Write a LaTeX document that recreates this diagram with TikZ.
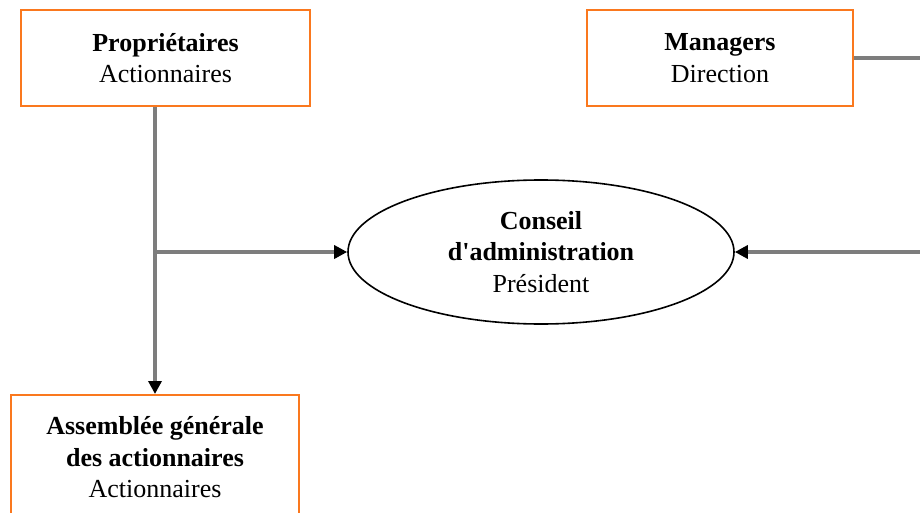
\documentclass[tikz,border=0pt]{standalone}
\usepackage{fontspec}
\setmainfont{Liberation Serif}[Ligatures=TeXOff]
\usetikzlibrary{arrows.meta,shapes.geometric}
\definecolor{boxorange}{RGB}{250,120,30}
\definecolor{linkgray}{RGB}{125,125,125}
\begin{document}
\begin{tikzpicture}[x=1pt,y=-1pt,
  txt/.style={font=\fontsize{26}{31.5}\selectfont, align=center, text=black},
  orgbox/.style={txt, draw=boxorange, line width=2pt, rectangle, inner sep=0pt},
  council/.style={txt, draw=black, line width=1.6pt, ellipse, inner sep=0pt},
  link/.style={draw=linkgray, line width=3.5pt,
    -{Triangle[length=13pt,width=13pt,color=black]}}]
  \useasboundingbox (0,0) rectangle (920,513);
  \clip (0,0) rectangle (920,513);
  % owners and managers
  \node[orgbox, minimum width=289pt, minimum height=96pt] (owners) at (165.5,58)
    {\textbf{Propriétaires}\\Actionnaires};
  \node[orgbox, minimum width=266pt, minimum height=96pt] (managers) at (720,58)
    {\textbf{Managers}\\Direction};
  % board
  \node[council, minimum width=386pt, minimum height=144pt] (board) at (541,252)
    {\textbf{Conseil}\\\textbf{d'administration}\\Président};
  % general assembly
  \node[orgbox, minimum width=288pt, minimum height=125pt] (assembly) at (155,457.5)
    {\textbf{Assemblée générale}\\\textbf{des actionnaires}\\Actionnaires};
  % connectors
  \coordinate (branch) at (assembly.north |- board.west);
  \draw[link] (assembly.north |- owners.south) -- (assembly.north);
  \draw[link] (branch) -- (board.west);
  \draw[link] (managers.east) -- ++(100,0) |- (board.east);
\end{tikzpicture}
\end{document}
